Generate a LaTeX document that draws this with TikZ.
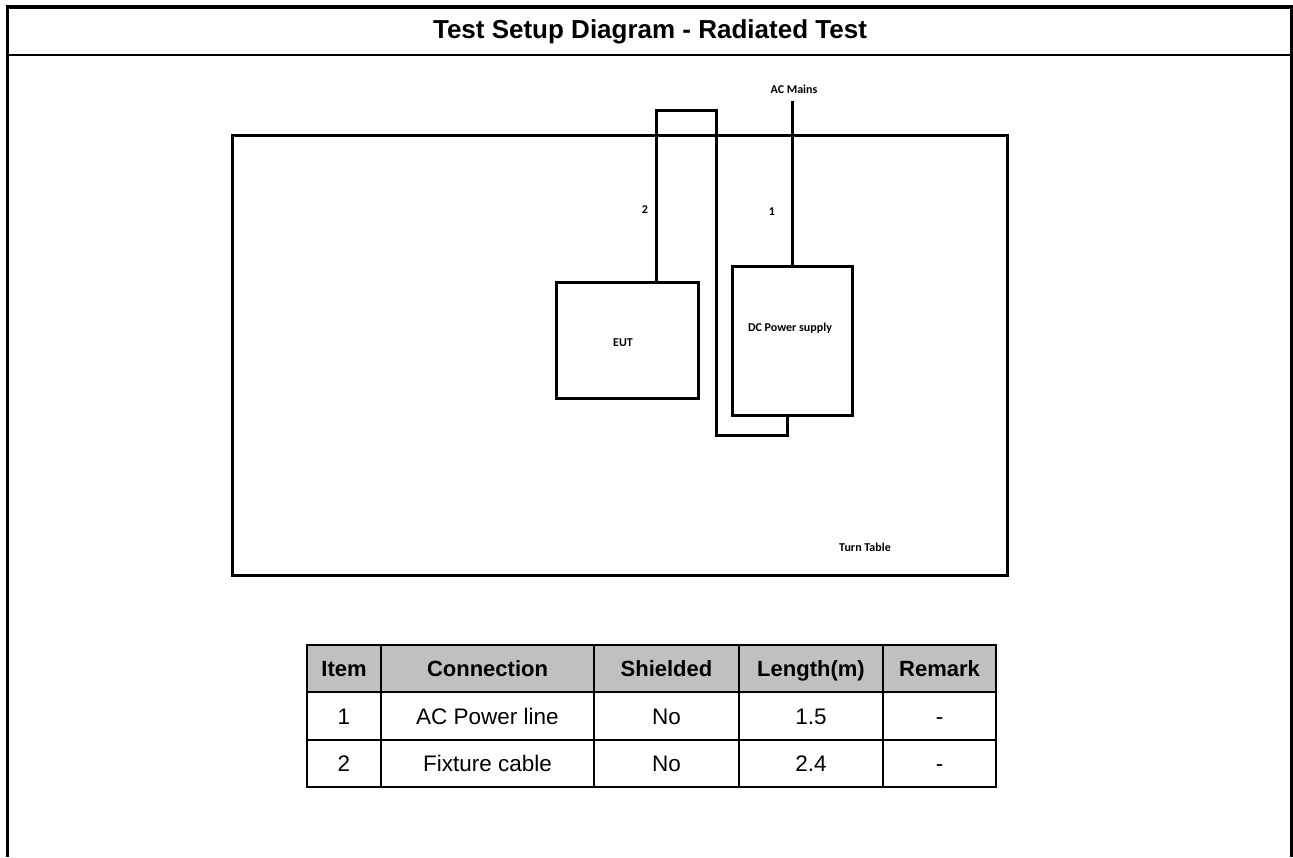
\documentclass[tikz,border=0pt]{standalone}
\usepackage{fontspec}
\setmainfont{Liberation Sans}
\newfontfamily\calibri{Carlito}
\definecolor{headgray}{RGB}{192,192,192}

\begin{document}
\begin{tikzpicture}[x=1pt,y=-1pt]
\tikzstyle{every node}=[inner sep=0pt]
\tikzstyle{box}=[draw, line width=3pt, rectangle]
\tikzstyle{cable}=[line width=3pt]
\tikzstyle{tag}=[font=\calibri\bfseries\fontsize{12}{12}\selectfont]
\tikzstyle{cell}=[anchor=base, font=\fontsize{22.5}{22.5}\selectfont]
\tikzstyle{head}=[anchor=base, font=\bfseries\fontsize{22}{22}\selectfont]
\tikzstyle{rule}=[line width=2.5pt]
\useasboundingbox (0,0) rectangle (1293,857);
% outer frame and title
\draw[line width=3.5pt] (7.5,857) -- (7.5,7) -- (1291.5,7) -- (1291.5,857);
\draw[line width=2pt] (7.5,54.5) -- (1291.5,54.5);
\draw (650,38) node (title) [anchor=base, font=\bfseries\fontsize{26}{26}\selectfont] {Test Setup Diagram - Radiated Test};
% turn table and units
\draw (619.5,355.5) node (tt) [box, minimum width=775pt, minimum height=440pt] {};
\draw (627,340) node (eut) [box, minimum width=142pt, minimum height=116pt] {};
\draw (792.5,340.5) node (dc) [box, minimum width=120pt, minimum height=149pt] {};
\coordinate (mains) at (792.5,101);
\draw (865,547) node (ttname) [tag] {Turn Table};
\draw (623,343) node (eutname) [tag] {EUT};
\draw (790,328) node (dcname) [tag] {DC Power supply};
\draw (794,89) node (mainsname) [tag] {AC Mains};
\draw (772,212) node (n1) [tag] {1};
\draw (645,210) node (n2) [tag] {2};
% cables
\draw[cable] (dc.north) -- (mains);
\draw[cable] ([xshift=29pt]eut.north) |- (716,110) -- (716,435) -| ([xshift=-5.5pt]dc.south);
% table
\fill[headgray] (307,645) rectangle (996,692);
\draw[rule] (307,645) rectangle (996,787);
\draw[rule] (307,692) -- (996,692);
\draw[rule] (307,740) -- (996,740);
\draw[rule] (381,645) -- (381,787);
\draw[rule] (594,645) -- (594,787);
\draw[rule] (739,645) -- (739,787);
\draw[rule] (883,645) -- (883,787);
\draw (344,676) node (h1) [head] {Item};
\draw (487.5,676) node (h2) [head] {Connection};
\draw (666.5,676) node (h3) [head] {Shielded};
\draw (811,676) node (h4) [head] {Length(m)};
\draw (939.5,676) node (h5) [head] {Remark};
\draw (344,724) node (a1) [cell] {1};
\draw (487.5,724) node (a2) [cell] {AC Power line};
\draw (666.5,724) node (a3) [cell] {No};
\draw (811,724) node (a4) [cell] {1.5};
\draw (939.5,724) node (a5) [cell] {-};
\draw (344,771.5) node (b1) [cell] {2};
\draw (487.5,771.5) node (b2) [cell] {Fixture cable};
\draw (666.5,771.5) node (b3) [cell] {No};
\draw (811,771.5) node (b4) [cell] {2.4};
\draw (939.5,771.5) node (b5) [cell] {-};
\end{tikzpicture}
\end{document}
